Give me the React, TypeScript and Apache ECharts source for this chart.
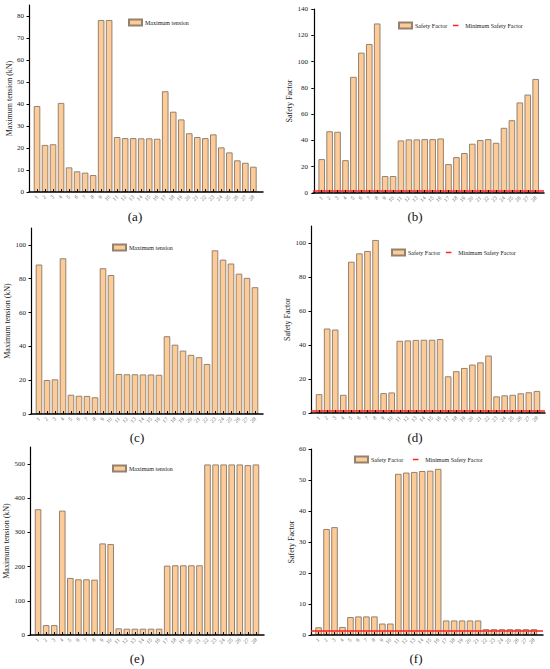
import React, { useEffect, useRef } from "react";
import * as echarts from "echarts";

// ---------- data ----------
const categories = [1, 2, 3, 4, 5, 6, 7, 8, 9, 10, 11, 12, 13, 14, 15, 16, 17, 18, 19, 20, 21, 22, 23, 24, 25, 26, 27, 28];

const tensionA = [39.1, 21.4, 21.7, 40.5, 11.2, 9.4, 8.8, 7.7, 78.2, 78.2, 25.0, 24.5, 24.5, 24.4, 24.4, 24.2, 45.8, 36.5, 33.0, 26.7, 25.0, 24.5, 26.2, 20.3, 18.0, 14.4, 13.3, 11.5];
const safetyB = [25.8, 47.0, 46.6, 25.0, 88.4, 106.8, 113.4, 129.0, 12.9, 12.9, 40.0, 40.8, 40.8, 41.0, 41.0, 41.5, 22.0, 27.3, 30.4, 37.5, 40.3, 41.0, 38.2, 49.6, 55.4, 68.9, 74.9, 86.8];
const tensionC = [88.4, 20.1, 20.5, 92.1, 11.4, 10.8, 10.7, 9.9, 86.2, 82.2, 23.7, 23.5, 23.5, 23.4, 23.4, 23.2, 46.0, 41.0, 37.5, 35.0, 33.6, 29.6, 96.8, 91.3, 89.0, 83.0, 80.5, 75.0];
const safetyD = [11.1, 49.7, 49.1, 10.7, 89.0, 93.9, 95.3, 101.8, 11.7, 12.1, 42.5, 42.7, 43.0, 43.1, 43.1, 43.5, 21.6, 24.6, 26.5, 28.5, 29.8, 33.8, 9.8, 10.4, 10.7, 11.6, 12.2, 13.0];
const tensionE = [368, 29, 29, 364, 167, 163, 163, 162, 268, 266, 19.5, 18.5, 18.5, 18.5, 18.5, 18.5, 203, 204, 204, 204, 204, 499, 499, 499, 499, 499, 497, 499];
const safetyF = [2.5, 34.2, 34.8, 2.6, 5.8, 6.0, 6.0, 6.0, 3.7, 3.7, 52.0, 52.4, 52.6, 52.9, 53.0, 53.6, 4.7, 4.7, 4.7, 4.7, 4.7, 1.9, 1.9, 1.9, 1.9, 1.9, 1.9, 1.9];
const minSafetyFactor = 1.5;

const yTicksA = [0, 10, 20, 30, 40, 50, 60, 70, 80];
const yTicksB = [0, 20, 40, 60, 80, 100, 120, 140];
const yTicksC = [0, 20, 40, 60, 80, 100];
const yTicksD = [0, 20, 40, 60, 80, 100];
const yTicksE = [0, 100, 200, 300, 400, 500];
const yTicksF = [0, 10, 20, 30, 40, 50, 60];

const panelLabels = ["(a)", "(b)", "(c)", "(d)", "(e)", "(f)"];

const TENSION = "Maximum tension";
const SAFETY = "Safety Factor";
const MIN_SAFETY = "Minimum Safety Factor";
const TENSION_AXIS = "Maximum tension (kN)";

// ---------- styles ----------
const FONT = "'Liberation Serif', 'Times New Roman', serif";
const BAR_FILL = "#FDCB98";
const BAR_BORDER = "#948270";
const RED = "#FF2020";

type Panel = {
  values: number[];
  yTicks: number[];
  yMax: number;
  kind: "tension" | "safety";
  grid: { left: number; top: number; width: number; height: number };
  xMin: number;
  xMax: number;
  nameGap: number;
  legend: { left: number; top: number; gap: number };
  label: { x: number; y: number };
};

const panels: Panel[] = [
  { values: tensionA, yTicks: yTicksA, yMax: 85, kind: "tension", grid: { left: 29, top: 5, width: 234, height: 187 }, xMin: 0, xMax: 29.2, nameGap: 15, legend: { left: 128, top: 18.5, gap: 3 }, label: { x: 135, y: 216 } },
  { values: safetyB, yTicks: yTicksB, yMax: 140, kind: "safety", grid: { left: 313, top: 9, width: 231, height: 184 }, xMin: -0.1, xMax: 29.05, nameGap: 18, legend: { left: 398, top: 21.5, gap: 2 }, label: { x: 415, y: 216 } },
  { values: tensionC, yTicks: yTicksC, yMax: 110, kind: "tension", grid: { left: 31, top: 228, width: 232, height: 186 }, xMin: 0, xMax: 29, nameGap: 17, legend: { left: 112, top: 243.5, gap: 3 }, label: { x: 137, y: 437 } },
  { values: safetyD, yTicks: yTicksD, yMax: 110, kind: "safety", grid: { left: 311, top: 226, width: 234, height: 187 }, xMin: 0, xMax: 29, nameGap: 17, legend: { left: 391, top: 248.5, gap: 2 }, label: { x: 415, y: 437 } },
  { values: tensionE, yTicks: yTicksE, yMax: 550, kind: "tension", grid: { left: 30, top: 447, width: 234, height: 188 }, xMin: 0, xMax: 29, nameGap: 17, legend: { left: 112, top: 464.5, gap: 3 }, label: { x: 137, y: 658 } },
  { values: safetyF, yTicks: yTicksF, yMax: 60, kind: "safety", grid: { left: 311, top: 449, width: 232, height: 186 }, xMin: 0.05, xMax: 29.15, nameGap: 14, legend: { left: 354, top: 455.5, gap: 6 }, label: { x: 416, y: 658 } },
];

const dashIcon = "path://M0,0 M14,6 M4,2.2 L10,2.2 L10,3.8 L4,3.8 Z";

function buildOption() {
  const grid: any[] = [];
  const xAxis: any[] = [];
  const yAxis: any[] = [];
  const series: any[] = [];
  const legend: any[] = [];
  const graphic: any[] = [];

  panels.forEach((p, i) => {
    grid.push({ ...p.grid, containLabel: false });
    xAxis.push({
      type: "value",
      gridIndex: i,
      min: p.xMin,
      max: p.xMax,
      z: 6,
      axisLine: { show: true, onZero: false, lineStyle: { color: "#000", width: 1.5 } },
      axisTick: { show: true, inside: true, length: 3, customValues: categories, lineStyle: { color: "#111", width: 1 } },
      axisLabel: { show: true, rotate: 45, fontSize: 5.5, color: "#666", margin: 4, customValues: categories, hideOverlap: false, fontFamily: FONT },
      splitLine: { show: false },
    });
    yAxis.push({
      type: "value",
      gridIndex: i,
      min: 0,
      max: p.yMax,
      name: p.kind === "tension" ? TENSION_AXIS : SAFETY,
      nameLocation: "middle",
      nameGap: p.nameGap,
      nameTextStyle: { fontSize: 8, color: "#222", fontFamily: FONT },
      axisLine: { show: true, lineStyle: { color: "#000", width: 1.2 } },
      axisTick: { show: true, inside: false, length: 2.5, customValues: p.yTicks, lineStyle: { color: "#000" } },
      axisLabel: { fontSize: 7, color: "#222", margin: 5, customValues: p.yTicks, fontFamily: FONT },
      splitLine: { show: false },
    });
    const barName = p.kind === "tension" ? TENSION : SAFETY;
    series.push({
      type: "bar",
      name: barName,
      xAxisIndex: i,
      yAxisIndex: i,
      barWidth: 6.6,
      data: p.values.map((v, k) => [categories[k], v]),
      itemStyle: { color: BAR_FILL, borderColor: BAR_BORDER, borderWidth: 1 },
      emphasis: { disabled: true },
      ...(p.kind === "safety"
        ? {
            markLine: {
              silent: true,
              symbol: "none",
              z: 5,
              label: { show: false },
              lineStyle: { color: RED, width: 1.6, type: "solid" },
              data: [{ yAxis: minSafetyFactor }],
            },
          }
        : {}),
    });
    const legendData: any[] = [{ name: barName, icon: "rect" }];
    if (p.kind === "safety") {
      series.push({
        type: "line",
        name: MIN_SAFETY,
        xAxisIndex: i,
        yAxisIndex: i,
        data: [],
        symbol: "none",
        itemStyle: { color: RED },
        lineStyle: { color: RED, width: 1.6 },
      });
      legendData.push({ name: MIN_SAFETY, icon: dashIcon, itemStyle: { color: RED, borderWidth: 0 } });
    }
    legend.push({
      left: p.legend.left,
      top: p.legend.top,
      orient: "horizontal",
      itemWidth: 13,
      itemHeight: 6,
      itemGap: p.legend.gap,
      padding: 0,
      selectedMode: false,
      textStyle: { fontSize: 6, color: "#222", fontFamily: FONT, padding: [0, 0, 0, -2] },
      data: legendData,
    });
    graphic.push({
      type: "text",
      x: p.label.x,
      y: p.label.y,
      style: {
        text: panelLabels[i],
        fontSize: 13,
        fontFamily: FONT,
        fill: "#111",
        align: "center",
        verticalAlign: "middle",
      },
    });
  });

  return {
    animation: false,
    backgroundColor: "#fff",
    textStyle: { fontFamily: FONT },
    grid,
    xAxis,
    yAxis,
    series,
    legend,
    graphic,
  };
}

export default function App() {
  const ref = useRef<HTMLDivElement>(null);
  useEffect(() => {
    if (!ref.current) return;
    const chart = echarts.init(ref.current, undefined, { renderer: "svg" });
    chart.setOption(buildOption() as any);
    return () => chart.dispose();
  }, []);
  return (
    <div
      ref={ref}
      style={{ position: "absolute", left: 0, top: 0, width: 550, height: 669, background: "#fff" }}
    />
  );
}
